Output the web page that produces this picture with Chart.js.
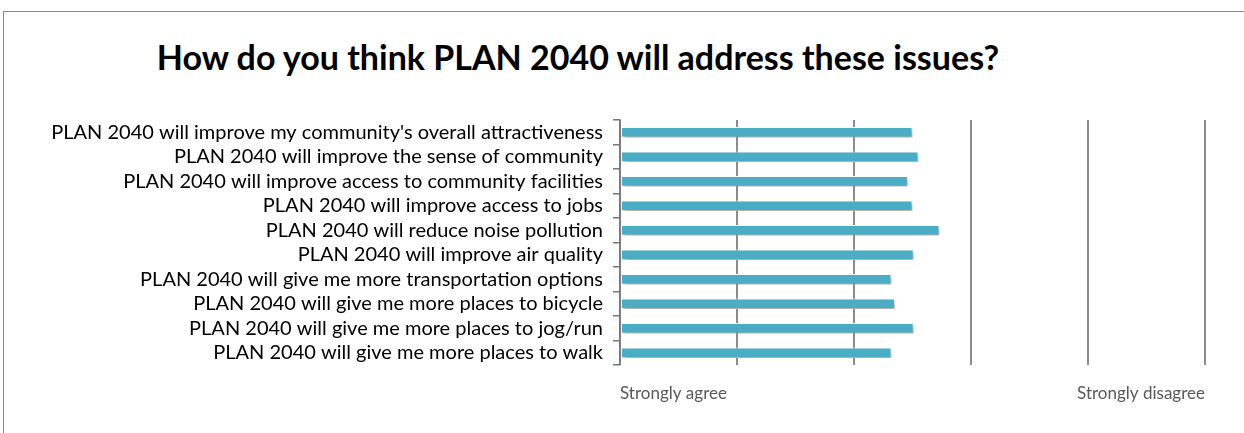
<!DOCTYPE html>
<html>
<head>
<meta charset="utf-8">
<script src="https://cdn.jsdelivr.net/npm/chart.js@4"></script>
<style>
  body { margin: 0; background: #fff; }
  #wrap { position: relative; width: 1244px; height: 433px; }
  #frame { position: absolute; left: 3px; top: 11px; right: 0; bottom: 0;
           border-top: 1px solid #8a8a8a; border-left: 1px solid #8a8a8a; }
  #title { position: absolute; left: 0; width: 1156px; top: 36px; line-height: 42px; text-align: center;
           font: bold 34px Lato, sans-serif; color: #000; }
  canvas { position: absolute; left: 0; top: 0; }
</style>
</head>
<body>
<div id="wrap">
  <div id="frame"></div>
  <div id="title">How do you think PLAN 2040 will address these issues?</div>
  <canvas id="myChart" width="1244" height="433"></canvas>
</div>
<script>
const statements = [
  "PLAN 2040 will improve my community's overall attractiveness",
  'PLAN 2040 will improve the sense of community',
  'PLAN 2040 will improve access to community facilities',
  'PLAN 2040 will improve access to jobs',
  'PLAN 2040 will reduce noise pollution',
  'PLAN 2040 will improve air quality',
  'PLAN 2040 will give me more transportation options',
  'PLAN 2040 will give me more places to bicycle',
  'PLAN 2040 will give me more places to jog/run',
  'PLAN 2040 will give me more places to walk'
];
// average rating, 1 = strongly agree ... 6 = strongly disagree end of scale
const avgRating = [3.50, 3.55, 3.46, 3.50, 3.73, 3.51, 3.32, 3.35, 3.51, 3.32];
const scaleLabels = { 1: 'Strongly agree', 6: 'Strongly disagree' };

// soft drop shadow under the bars
const barShadow = {
  id: 'barShadow',
  beforeDatasetsDraw(chart) {
    const c = chart.ctx;
    c.save();
    c.shadowColor = 'rgba(0,0,0,0.35)';
    c.shadowBlur = 4;
    c.shadowOffsetX = 2;
    c.shadowOffsetY = 3;
  },
  afterDatasetsDraw(chart) {
    chart.ctx.restore();
  }
};

const ctx = document.getElementById('myChart').getContext('2d');
new Chart(ctx, {
  type: 'bar',
  data: {
    labels: statements,
    datasets: [{
      data: avgRating,
      base: 1,
      backgroundColor: '#4bacc6',
      borderColor: '#ffffff',
      borderWidth: 1,
      borderSkipped: false,
      barPercentage: 0.42,
      categoryPercentage: 1
    }]
  },
  options: {
    indexAxis: 'y',
    responsive: false,
    animation: false,
    layout: { padding: { top: 120, right: 39, left: 0, bottom: 0 } },
    plugins: {
      legend: { display: false },
      tooltip: { enabled: false }
    },
    scales: {
      x: {
        min: 1,
        max: 6,
        ticks: {
          stepSize: 1,
          align: 'inner',
          autoSkip: false,
          maxRotation: 0,
          minRotation: 0,
          padding: 18,
          color: '#595959',
          font: { family: 'Lato', size: 17 },
          callback: v => scaleLabels[v] || ''
        },
        grid: { color: '#8c8c8c', lineWidth: 2, drawTicks: false },
        border: { display: false },
        afterFit: s => { s.height = 68; }
      },
      y: {
        ticks: {
          autoSkip: false,
          color: '#000',
          padding: 10,
          font: { family: 'Lato', size: 20 }
        },
        grid: { drawOnChartArea: false, tickLength: 7, color: '#777', lineWidth: 1.5 },
        border: { display: true, color: '#777', width: 1.5 },
        afterFit: s => { s.width = 620; }
      }
    }
  },
  plugins: [barShadow]
});
</script>
</body>
</html>
